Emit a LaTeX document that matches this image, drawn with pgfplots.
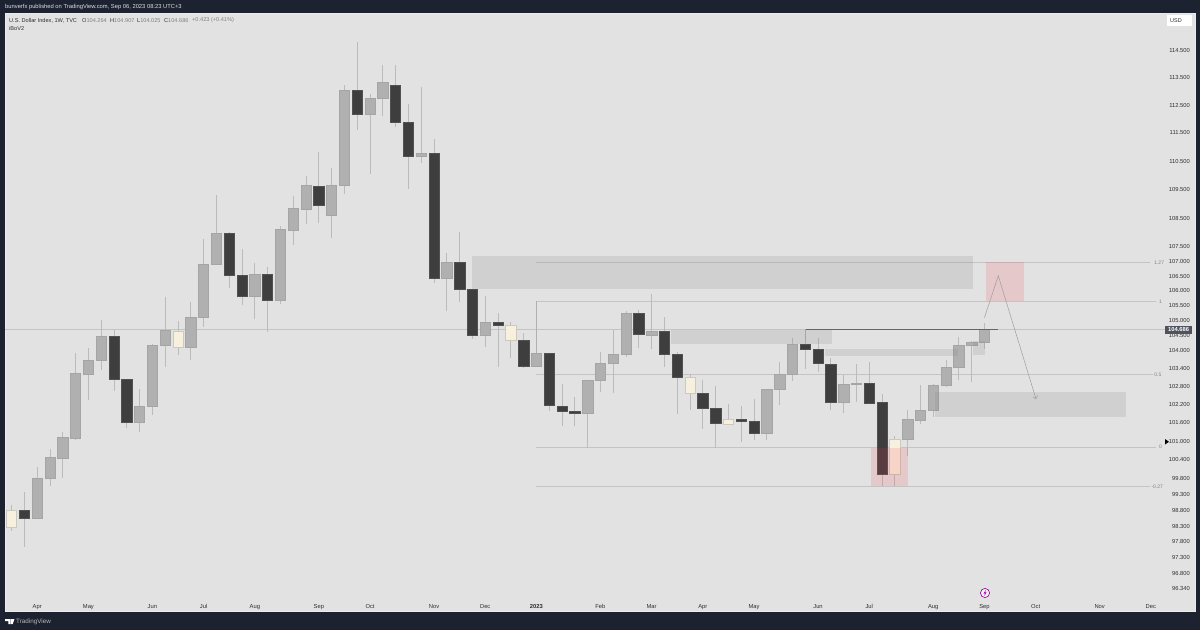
\documentclass[border=0pt]{standalone}
\usepackage{fontspec}
\setmainfont{Liberation Sans}
\usepackage{pgfplots}
\pgfplotsset{compat=1.18}
\usetikzlibrary{arrows.meta}

\definecolor{bar}{HTML}{1C2230}
\definecolor{panel}{HTML}{E2E2E2}
\definecolor{upc}{HTML}{B0B0B0}
\definecolor{dnc}{HTML}{3E3E3E}
\definecolor{cream}{HTML}{F8F0DF}
\definecolor{creamb}{HTML}{CCC9BF}
\definecolor{wick}{HTML}{BBBBBB}
\definecolor{zone}{HTML}{7F7F7F}
\definecolor{redz}{HTML}{F23645}
\definecolor{lvl}{HTML}{C4C4C4}
\definecolor{muted}{HTML}{808080}
\definecolor{txt}{HTML}{2E2E2E}
\definecolor{tag}{HTML}{50535E}

\newcommand{\fs}[1]{\fontsize{#1}{#1}\selectfont}

% candle: index, open, high, low, close, body style
\newcommand{\candle}[6]{%
  \pgfmathsetmacro{\xa}{#1-0.4}\pgfmathsetmacro{\xb}{#1+0.4}%
  \addplot[wick,line width=0.9pt] coordinates {(#1,#3)(#1,#4)};%
  \addplot[#6] coordinates {(\xa,#2)(\xb,#2)(\xb,#5)(\xa,#5)} --cycle;%
}
\newcommand{\bull}[5]{\candle{#1}{#2}{#3}{#4}{#5}{fill=upc,draw=upc!94!black,line width=0.5pt}}
\newcommand{\bear}[5]{\candle{#1}{#2}{#3}{#4}{#5}{fill=dnc,draw=dnc!90!white,line width=0.5pt}}
\newcommand{\doji}[5]{\candle{#1}{#2}{#3}{#4}{#5}{fill=cream,draw=creamb,line width=0.7pt}}

\begin{document}
\begin{tikzpicture}[x=1pt,y=1pt]
\fill[bar] (0,0) rectangle (1200,630);
\begin{axis}[
    scale only axis,
    at={(5pt,18pt)}, anchor=south west,
    width=1190pt, height=598.5pt,
    ymode=log,
    xmin=-0.516, xmax=92.45,
    ymin=95.63, ymax=115.86,
    axis background/.style={fill=panel},
    axis line style={draw=white!92!black,line width=0.8pt},
    major tick length=0pt,
    minor tick length=0pt,
    tick label style={font=\fs{5.8},text=txt},
    xtick={2,6,11,15,19,24,28,33,37,41,46,50,54,58,63,67,72,76,80,85,89},
    xticklabels={Apr,May,Jun,Jul,Aug,Sep,Oct,Nov,Dec,\textbf{2023},Feb,Mar,Apr,May,Jun,Jul,Aug,Sep,Oct,Nov,Dec},
    xticklabel style={anchor=south,yshift=1.8pt,inner sep=0pt,text height=4.4pt,text depth=1.3pt},
    yticklabel pos=right,
    ytick={114.5,113.5,112.5,111.5,110.5,109.5,108.5,107.5,107,106.5,106,105.5,105,104.5,104,103.4,102.8,102.2,101.6,101,100.4,99.8,99.3,98.8,98.3,97.8,97.3,96.8,96.34},
    yticklabels={114.500,113.500,112.500,111.500,110.500,109.500,108.500,107.500,107.000,106.500,106.000,105.500,105.000,104.500,104.000,103.400,102.800,102.200,101.600,101.000,100.400,99.800,99.300,98.800,98.300,97.800,97.300,96.800,96.340},
    yticklabel style={anchor=east,xshift=-5pt,inner sep=0pt},
]
% last price line and fib levels
\addplot[lvl,line width=0.6pt] coordinates {(-0.516,104.686)(90.1,104.686)};
\addplot[lvl,line width=0.8pt] coordinates {(41,106.97)(88.9,106.97)};
\addplot[lvl,line width=0.8pt] coordinates {(41,105.64)(89.4,105.64)};
\addplot[lvl,line width=0.8pt] coordinates {(41,103.19)(89.2,103.19)};
\addplot[lvl,line width=0.8pt] coordinates {(41,100.82)(89.4,100.82)};
\addplot[lvl,line width=0.8pt] coordinates {(41,99.56)(88.9,99.56)};
\addplot[lvl!90!black,line width=0.7pt] coordinates {(41,105.64)(41,103.91)};

% candles
\doji{0}{98.24}{98.95}{98.13}{98.79}
\bear{1}{98.80}{99.36}{97.65}{98.55}
\bull{2}{98.54}{100.18}{98.54}{99.82}
\bull{3}{99.81}{100.75}{99.56}{100.50}
\bull{4}{100.47}{101.32}{99.81}{101.12}
\bull{5}{101.10}{103.92}{101.03}{103.22}
\bull{6}{103.19}{104.07}{102.36}{103.66}
\bull{7}{103.65}{105.01}{103.33}{104.46}
\bear{8}{104.46}{104.66}{102.65}{103.02}
\bear{9}{103.02}{103.02}{101.44}{101.63}
\bull{10}{101.62}{102.72}{101.30}{102.16}
\bull{11}{102.15}{104.20}{101.85}{104.18}
\bull{12}{104.18}{105.80}{103.43}{104.66}
\doji{13}{104.10}{104.96}{103.85}{104.64}
\bull{14}{104.10}{105.63}{103.68}{105.11}
\bull{15}{105.10}{107.78}{104.79}{106.89}
\bull{16}{106.89}{109.31}{106.89}{107.98}
\bear{17}{107.98}{108.00}{106.11}{106.54}
\bear{18}{106.54}{107.42}{105.52}{105.82}
\bull{19}{105.80}{106.95}{105.04}{106.58}
\bear{20}{106.58}{106.81}{104.62}{105.67}
\bull{21}{105.67}{108.21}{105.56}{108.12}
\bull{22}{108.09}{109.28}{107.57}{108.84}
\bull{23}{108.82}{109.98}{108.29}{109.63}
\bear{24}{109.60}{110.82}{108.34}{108.96}
\bull{25}{108.59}{110.25}{107.82}{109.65}
\bull{26}{109.64}{113.23}{109.35}{113.04}
\bear{27}{113.03}{114.79}{111.59}{112.18}
\bull{28}{112.16}{112.91}{110.05}{112.76}
\bull{29}{112.74}{113.96}{112.10}{113.32}
\bear{30}{113.23}{113.96}{111.71}{111.89}
\bear{31}{111.89}{112.54}{109.53}{110.66}
\bull{32}{110.66}{113.16}{110.43}{110.78}
\bear{33}{110.78}{111.29}{106.26}{106.41}
\bull{34}{106.41}{107.29}{105.33}{106.98}
\bear{35}{106.97}{108.00}{105.63}{106.06}
\bear{36}{106.06}{106.06}{104.38}{104.50}
\bull{37}{104.49}{105.83}{104.09}{104.93}
\bear{38}{104.92}{105.24}{103.43}{104.83}
\doji{39}{104.32}{104.93}{103.74}{104.83}
\bear{40}{104.32}{104.57}{103.41}{103.48}
\bull{41}{103.48}{103.91}{103.45}{103.91}
\bear{42}{103.90}{103.90}{101.98}{102.17}
\bear{43}{102.16}{102.88}{101.51}{101.98}
\bear{44}{101.98}{102.44}{101.49}{101.91}
\bull{45}{101.91}{102.99}{100.80}{102.99}
\bull{46}{102.99}{103.95}{102.62}{103.57}
\bull{47}{103.56}{104.68}{102.58}{103.87}
\bull{48}{103.87}{105.30}{103.77}{105.25}
\bear{49}{105.24}{105.35}{104.07}{104.52}
\bull{50}{104.51}{105.89}{104.03}{104.64}
\bear{51}{104.62}{105.12}{103.43}{103.86}
\bear{52}{103.85}{103.93}{101.89}{103.11}
\doji{53}{102.58}{103.22}{102.03}{103.11}
\bear{54}{102.58}{103.02}{101.41}{102.09}
\bear{55}{102.09}{102.80}{100.80}{101.58}
\doji{56}{101.56}{102.23}{101.56}{101.73}
\bear{57}{101.71}{102.16}{100.99}{101.67}
\bear{58}{101.67}{102.38}{101.03}{101.27}
\bull{59}{101.27}{102.70}{101.03}{102.70}
\bull{60}{102.69}{103.61}{102.20}{103.19}
\bull{61}{103.19}{104.42}{102.96}{104.21}
\bear{62}{104.21}{104.71}{103.37}{104.03}
\bear{63}{104.02}{104.40}{103.27}{103.55}
\bear{64}{103.54}{103.74}{102.01}{102.29}
\bull{65}{102.29}{103.19}{101.93}{102.88}
\bull{66}{102.86}{103.54}{102.29}{102.91}
\bear{67}{102.91}{103.59}{102.25}{102.25}
\bear{68}{102.27}{102.56}{99.56}{99.95}
\doji{69}{99.95}{101.18}{99.56}{101.07}
\bull{70}{101.06}{102.03}{100.54}{101.71}
\bull{71}{101.69}{102.85}{101.55}{102.00}
\bull{72}{102.00}{102.88}{101.78}{102.85}
\bull{73}{102.83}{103.67}{102.77}{103.43}
\bull{74}{103.42}{104.44}{103.02}{104.17}
\bull{75}{104.17}{104.32}{102.93}{104.27}
\bull{76}{104.264}{104.907}{104.025}{104.686}

% zones
\addplot[draw=none,fill=zone,fill opacity=0.18] coordinates {(36.0,107.17)(75.07,107.17)(75.07,106.06)(36.0,106.06)} --cycle;
\addplot[draw=none,fill=zone,fill opacity=0.18] coordinates {(51.5,104.68)(64.07,104.68)(64.07,104.21)(51.5,104.21)} --cycle;
\addplot[draw=none,fill=zone,fill opacity=0.18] coordinates {(63.55,104.04)(73.94,104.04)(73.94,103.82)(63.55,103.82)} --cycle;
\addplot[draw=none,fill=zone,fill opacity=0.18] coordinates {(75.1,104.29)(76.05,104.29)(76.05,103.85)(75.1,103.85)} --cycle;
\addplot[draw=none,fill=zone,fill opacity=0.18] coordinates {(72.14,102.62)(87.06,102.62)(87.06,101.80)(72.14,101.80)} --cycle;
\addplot[draw=none,fill=redz,fill opacity=0.15] coordinates {(67.12,100.80)(70.05,100.80)(70.05,99.57)(67.12,99.57)} --cycle;
\addplot[draw=none,fill=redz,fill opacity=0.15] coordinates {(76.1,106.97)(79.1,106.97)(79.1,105.64)(76.1,105.64)} --cycle;

% horizontal level and projected path
\addplot[black!60,line width=1.2pt] coordinates {(62.04,104.70)(77.06,104.70)};
\addplot[black!35,line width=0.7pt] coordinates {(62.04,104.70)(62.04,104.30)};
\addplot[black!38,line width=0.5pt,-{Straight Barb[length=2.5pt,width=5pt]}] coordinates {(76,105.09)(77.08,106.51)(80.03,102.38)};

% fib labels and last price tag
\node[font=\fs{5},text=muted,anchor=center] at (axis cs:89.65,106.97) {1.27};
\node[font=\fs{5},text=muted,anchor=center] at (axis cs:89.75,105.64) {1};
\node[font=\fs{5},text=muted,anchor=center] at (axis cs:89.55,103.19) {0.5};
\node[font=\fs{5},text=muted,anchor=center] at (axis cs:89.75,100.82) {0};
\node[font=\fs{5},text=muted,anchor=center] at (axis cs:89.5,99.56) {-0.27};
\node[fill=tag,text=white,font=\bfseries\fs{5.8},inner sep=0pt,minimum width=27pt,minimum height=8pt,anchor=west] at (axis cs:90.1,104.686) {104.686};
\end{axis}

% header, legend, footer
\node[anchor=west,inner sep=0pt,text=white!88!black,font=\fs{5.8}] at (5,623) {bunverfx published on TradingView.com, Sep 06, 2023 08:23 UTC+3};
\node[anchor=west,inner sep=0pt,text=txt,font=\fs{5.6}] at (9,609.5) {U.S. Dollar Index, 1W, TVC};
\foreach \x/\k/\v in {82/O/104.264,110/H/104.907,137/L/104.025,164/C/104.686}
  \node[anchor=west,inner sep=0pt,text=txt,font=\fs{5.6}] at (\x,609.5) {\k\textcolor{muted}{\v}};
\node[anchor=west,inner sep=0pt,text=muted,font=\fs{5.6}] at (192,609.5) {+0.423 (+0.41\%)};
\node[anchor=west,inner sep=0pt,text=txt,font=\fs{5.6}] at (9,601) {iBoV2};
\fill[white] (1167,604) rectangle (1192,614.5);
\node[inner sep=0pt,text=txt,font=\fs{5.5}] at (1176,609) {USD};
\fill[black] (1165,185.5) -- (1165,191) -- (1169,188.2) -- cycle;
\draw[violet!80!magenta,fill=panel!50!white,line width=0.6pt] (985,37) circle (4.6);
\fill[violet!80!magenta] (985.8,40) -- (983.6,36.6) -- (985,36.6) -- (984.3,34) -- (986.5,37.6) -- (985.1,37.6) -- cycle;
\fill[white] (5,11) -- (10.5,11) -- (10.5,6) -- (8.3,6) -- (8.3,9) -- (5,9) -- cycle;
\fill[white] (11,11) -- (14.5,11) -- (12.7,6) -- (10.8,6) -- cycle;
\node[anchor=west,inner sep=0pt,text=white!72!black,font=\fs{6.3}] at (16,8.5) {TradingView};
\end{tikzpicture}
\end{document}
